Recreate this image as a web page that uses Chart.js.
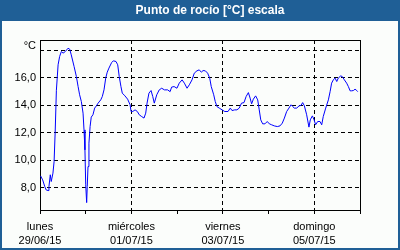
<!DOCTYPE html>
<html><head><meta charset="utf-8">
<script src="https://cdn.jsdelivr.net/npm/chart.js@4/dist/chart.umd.min.js"></script>
<style>html,body{margin:0;padding:0;background:#fff}canvas{display:block}</style>
</head><body>
<canvas id="c" width="400" height="250"></canvas>
<script>
const chartTitle = 'Punto de rocío [°C] escala';
const yUnit = '°C';
// hours since lunes 29/06/15 00:00
const hours = [
0.3,1.4,2.5,3.2,4.2,4.7,5.4,5.9,6.8,7.4,
8.0,8.6,9.5,10.3,11.2,12.1,13.3,14.7,15.6,16.4,
17.9,19.1,20.0,20.8,21.7,22.6,23.1,23.6,24.0,24.5,
24.8,25.2,25.7,26.3,26.9,27.8,28.7,29.6,30.5,31.9,
32.7,33.6,34.5,35.3,36.2,37.6,38.5,39.9,40.8,41.6,
42.5,43.2,44.6,46.0,47.3,47.8,48.7,49.9,51.1,52.1,
53.4,54.6,55.5,56.2,57.2,58.3,59.2,60.0,61.3,62.6,
63.9,65.3,67.0,68.3,69.1,70.4,71.9,73.1,74.6,75.8,
77.2,78.4,79.8,81.0,82.4,83.6,84.7,85.6,86.8,88.0,
89.1,89.9,91.2,92.0,92.9,94.1,95.6,97.0,98.7,99.9,
100.8,102.2,103.4,104.6,105.8,107.1,108.2,109.4,110.3,111.1,
112.0,113.2,114.3,115.1,115.9,116.9,118.1,119.3,120.4,121.6,
123.0,124.6,126.0,127.2,128.3,129.5,130.7,131.8,132.7,133.5,
134.8,136.0,137.0,137.9,138.8,140.0,141.2,141.9,143.0,143.9,
144.7,145.8,147.0,147.9,148.7,150.0,151.4,152.3,153.1,154.0,
154.9,155.8,156.6,157.9,158.7,159.8,161.0,161.9,162.8,163.6,
164.5,165.4,166.3,166.8];
const dewPoint = [
8.85,8.56,8.07,7.83,7.78,8.07,8.93,8.44,9.05,9.9,
12.2,15.1,16.96,17.56,17.93,17.81,17.93,18.17,18.1,17.69,
16.83,16.1,15.37,14.77,14.28,13.43,12.21,10.75,8.2,6.9,
8.07,9.53,11.24,12.45,13.14,13.31,13.8,13.96,14.16,14.4,
14.64,15.13,15.99,16.42,16.72,17.12,17.25,17.2,16.96,16.1,
15.37,14.89,14.69,14.45,14.04,13.55,13.55,13.67,13.55,13.31,
13.18,13.07,13.43,14.16,14.89,15.08,14.64,14.16,14.77,15.13,
15.25,15.13,15.13,15.0,15.33,15.37,15.25,15.62,15.86,15.62,
15.25,15.5,15.86,16.35,16.52,16.59,16.42,16.54,16.52,16.35,
15.99,15.37,14.77,14.28,13.91,13.8,13.67,13.55,13.55,13.8,
13.62,13.67,13.67,13.8,14.16,14.2,14.64,14.93,14.53,14.11,
14.45,14.69,14.4,13.67,12.94,12.65,12.65,12.82,12.65,12.58,
12.5,12.45,12.5,12.7,13.07,13.55,13.8,14.04,13.91,13.8,
13.8,13.96,13.99,14.2,13.96,13.31,12.41,12.94,13.23,12.94,
12.58,12.82,12.82,12.58,13.18,13.8,14.4,15.0,15.62,15.86,
15.99,15.74,15.99,16.15,16.1,15.86,15.62,15.37,15.06,15.06,
15.08,15.18,15.08,15.0];
const dayTickHours = [0,24,48,72,96,120,144,168];
const labelHours = [0,48,96,144];
const dayNames = ['lunes','miércoles','viernes','domingo'];
const dayDates = ['29/06/15','01/07/15','03/07/15','05/07/15'];
const yTicks = [8,10,12,14,16,18];
const yMin = 6.36, yMax = 18.77;

const FONT = 'Liberation Sans, Arial, sans-serif';

const bgPlugin = {
  id: 'bg',
  afterLayout(chart) {
    // let the y-axis label area extend to the left edge
    const y = chart.scales.y;
    y.width = y.right;
    y.left = 0;
  },
  beforeDraw(chart) {
    const ctx = chart.ctx;
    ctx.save();
    ctx.fillStyle = '#1f5f96';
    ctx.fillRect(0, 0, chart.width, chart.height);
    ctx.fillStyle = '#fbfdfb';
    ctx.fillRect(2, 21, chart.width - 4, chart.height - 23);
    ctx.restore();
  },
  beforeDatasetsDraw(chart) {
    const {ctx, chartArea: a} = chart;
    const l = Math.round(a.left), r = Math.round(a.right), t = Math.round(a.top), b = Math.round(a.bottom);
    ctx.save();
    ctx.fillStyle = '#000';
    ctx.fillRect(l, t, r - l + 1, 1);
    ctx.fillRect(l, b, r - l + 1, 1);
    ctx.fillRect(l, t, 1, b - t + 1);
    ctx.fillRect(r, t, 1, b - t + 1);
    ctx.restore();
  }
};

new Chart(document.getElementById('c'), {
  type: 'line',
  data: {
    datasets: [{
      data: hours.map((h, i) => ({x: h, y: dewPoint[i]})),
      borderColor: '#0000ff',
      borderWidth: 1,
      pointRadius: 0,
      tension: 0,
      fill: false
    }]
  },
  options: {
    responsive: false,
    devicePixelRatio: 1,
    animation: false,
    layout: {padding: {left: 20, right: 0, top: 0, bottom: 0}},
    plugins: {
      legend: {display: false},
      tooltip: {enabled: false},
      title: {
        display: true,
        text: chartTitle,
        color: '#ffffff',
        font: {family: FONT, size: 12, weight: 'bold', lineHeight: 1.2},
        padding: {top: 3.6, bottom: 22}
      }
    },
    scales: {
      x: {
        type: 'linear',
        min: dayTickHours[0],
        max: dayTickHours[dayTickHours.length - 1],
        afterBuildTicks: s => { s.ticks = dayTickHours.map(v => ({value: v})); },
        afterFit: s => { s.height = 40; s.paddingRight = 40; },
        ticks: {
          autoSkip: false,
          maxRotation: 0,
          color: '#000',
          padding: 6,
          font: {family: FONT, size: 11, lineHeight: 1.25},
          callback: v => {
            const i = labelHours.indexOf(v);
            return i >= 0 ? [dayNames[i], dayDates[i]] : '';
          }
        },
        grid: {
          color: c => (c.tick && labelHours.indexOf(c.tick.value) > 0) ? '#000' : 'rgba(0,0,0,0)',
          tickColor: '#000',
          tickLength: 4,
          lineWidth: 1
        },
        border: {display: false, dash: [4, 3]}
      },
      y: {
        type: 'linear',
        min: yMin,
        max: yMax,
        afterBuildTicks: s => { s.ticks = yTicks.map(v => ({value: v})); },
        afterFit: s => { s.width = 20; s.paddingTop = 0; s.paddingBottom = 0; },
        ticks: {
          color: '#000',
          padding: 4,
          font: {family: FONT, size: 11, lineHeight: 0.8},
          callback: v => v === yTicks[yTicks.length - 1] ? [yUnit, ''] : v.toFixed(1).replace('.', ',')
        },
        grid: {color: '#000', lineWidth: 1, drawTicks: false},
        border: {display: false, dash: [4, 3]}
      }
    }
  },
  plugins: [bgPlugin]
});
</script>
</body></html>
